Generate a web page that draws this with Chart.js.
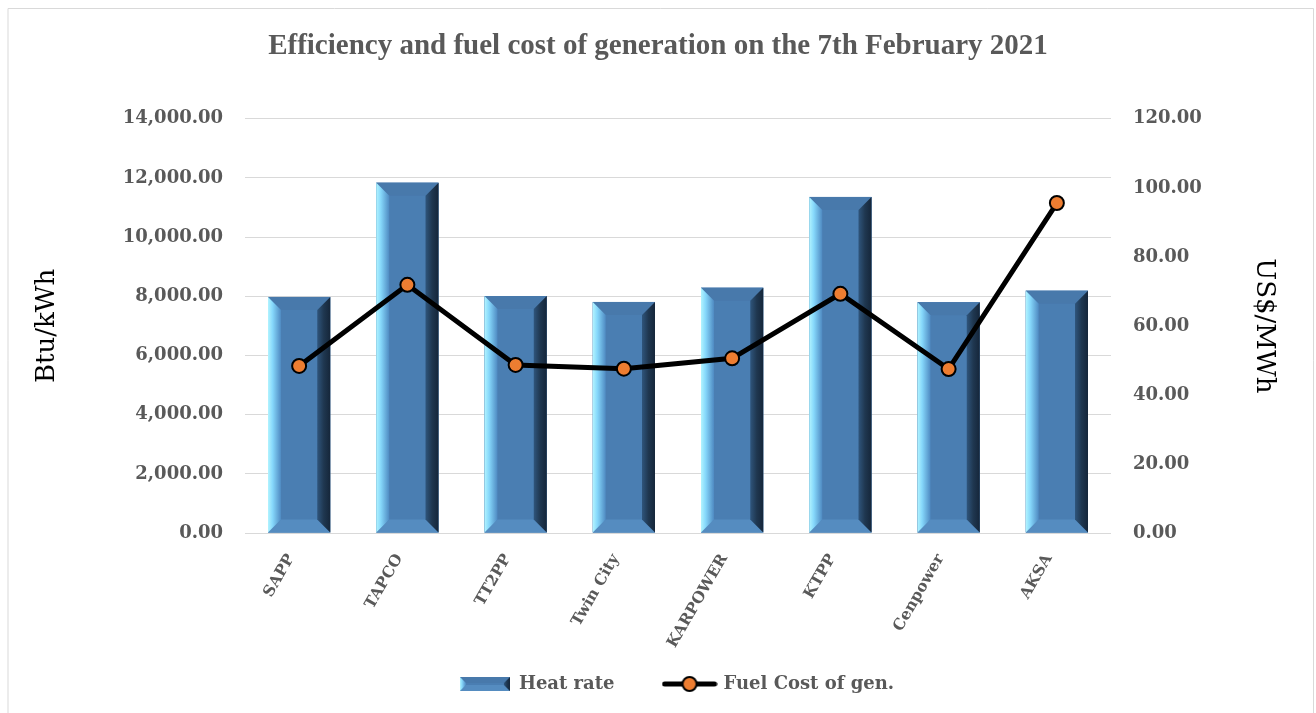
<!DOCTYPE html>
<html>
<head>
<meta charset="utf-8">
<script src="https://cdn.jsdelivr.net/npm/chart.js@4.4.1/dist/chart.umd.min.js"></script>
<style>
  html, body { margin: 0; padding: 0; background: #fff; }
  #wrap { position: absolute; left: 0; top: 0; width: 1316px; height: 713px; }
</style>
</head>
<body>
<div id="wrap"><canvas id="c" width="1316" height="713"></canvas></div>
<script>
const categories = ['SAPP', 'TAPCO', 'TT2PP', 'Twin City', 'KARPOWER', 'KTPP', 'Cenpower', 'AKSA'];
const heatRate = [7980, 11840, 8010, 7810, 8290, 11360, 7800, 8190];
const fuelCost = [48.4, 71.9, 48.7, 47.6, 50.6, 69.3, 47.5, 95.6];
const leftTicks = [0, 2000, 4000, 6000, 8000, 10000, 12000, 14000];
const rightTicks = [0, 20, 40, 60, 80, 100, 120];

const GREY = '#595959';
const fmt = v => Number(v).toLocaleString('en-US', {minimumFractionDigits: 2, maximumFractionDigits: 2});

function bevel(ctx, L, T, R, B, b) {
  ctx.fillStyle = '#4a7eb2';
  ctx.fillRect(L, T, R - L, B - T);
  ctx.fillStyle = '#4879ab';
  ctx.beginPath(); ctx.moveTo(L, T); ctx.lineTo(R, T); ctx.lineTo(R - b, T + b); ctx.lineTo(L + b, T + b); ctx.closePath(); ctx.fill();
  ctx.fillStyle = '#558cc0';
  ctx.beginPath(); ctx.moveTo(L, B); ctx.lineTo(R, B); ctx.lineTo(R - b, B - b); ctx.lineTo(L + b, B - b); ctx.closePath(); ctx.fill();
  let g = ctx.createLinearGradient(L, 0, L + b, 0);
  g.addColorStop(0, '#b2f4ff');
  g.addColorStop(0.35, '#86d8fb');
  g.addColorStop(1, '#4f8ac2');
  ctx.fillStyle = g;
  ctx.beginPath(); ctx.moveTo(L, T); ctx.lineTo(L + b, T + b); ctx.lineTo(L + b, B - b); ctx.lineTo(L, B); ctx.closePath(); ctx.fill();
  g = ctx.createLinearGradient(R - b, 0, R, 0);
  g.addColorStop(0, '#2f557c');
  g.addColorStop(0.5, '#1f3750');
  g.addColorStop(1, '#15263a');
  ctx.fillStyle = g;
  ctx.beginPath(); ctx.moveTo(R, T); ctx.lineTo(R - b, T + b); ctx.lineTo(R - b, B - b); ctx.lineTo(R, B); ctx.closePath(); ctx.fill();
}

function barIcon() {
  const c = document.createElement('canvas'); c.width = 50; c.height = 14;
  const x = c.getContext('2d');
  bevel(x, 0, 0, 50, 14, 6);
  return c;
}
function lineIcon() {
  const c = document.createElement('canvas'); c.width = 56; c.height = 18;
  const x = c.getContext('2d');
  x.strokeStyle = '#000'; x.lineWidth = 5; x.lineCap = 'round';
  x.beginPath(); x.moveTo(3, 9); x.lineTo(53, 9); x.stroke();
  x.beginPath(); x.arc(28, 9, 7, 0, Math.PI * 2);
  x.fillStyle = '#ed7d31'; x.fill(); x.lineWidth = 2; x.stroke();
  return c;
}

const framePlugin = {
  id: 'frame',
  beforeDraw(chart) {
    const ctx = chart.ctx;
    ctx.save();
    ctx.fillStyle = '#fff';
    ctx.fillRect(0, 0, chart.width, chart.height);
    ctx.strokeStyle = '#d9d9d9';
    ctx.lineWidth = 1;
    ctx.beginPath();
    ctx.moveTo(8, 713); ctx.lineTo(8, 8.5); ctx.lineTo(1313.5, 8.5); ctx.lineTo(1313.5, 713);
    ctx.stroke();
    ctx.restore();
  },
  afterLayout(chart) {
    if (chart.legend) { chart.legend.left += 19; chart.legend.right += 19; }
  }
};

const bevelPlugin = {
  id: 'bevel',
  afterDatasetDraw(chart, args) {
    if (args.index !== 0) return;
    const ctx = chart.ctx;
    const meta = args.meta;
    ctx.save();
    meta.data.forEach(el => {
      const p = el.getProps(['x', 'y', 'base', 'width'], true);
      const L = p.x - p.width / 2, R = p.x + p.width / 2;
      const T = Math.min(p.y, p.base), B = Math.max(p.y, p.base);
      bevel(ctx, L, T, R, B, Math.min(13, p.width / 4.5));
    });
    ctx.restore();
  }
};

new Chart(document.getElementById('c'), {
  type: 'bar',
  data: {
    labels: categories,
    datasets: [
      {
        label: 'Heat rate',
        data: heatRate,
        backgroundColor: '#4a7eb2',
        borderWidth: 0,
        barPercentage: 0.575,
        categoryPercentage: 1.0,
        yAxisID: 'y',
        order: 2
      },
      {
        type: 'line',
        label: 'Fuel Cost of gen.',
        data: fuelCost,
        borderColor: '#000',
        borderWidth: 5,
        pointRadius: 7,
        pointBackgroundColor: '#ed7d31',
        pointBorderColor: '#000',
        pointBorderWidth: 2,
        tension: 0,
        yAxisID: 'y1',
        order: 1
      }
    ]
  },
  options: {
    responsive: false,
    animation: false,
    devicePixelRatio: 1,
    layout: { padding: { left: 10, right: 10, top: 0, bottom: 10 } },
    plugins: {
      tooltip: { enabled: false },
      title: {
        display: true,
        text: 'Efficiency and fuel cost of generation on the 7th February 2021',
        color: GREY,
        font: { family: 'Liberation Serif', size: 29, weight: 'bold' },
        padding: { top: 29, bottom: 55 }
      },
      legend: {
        position: 'bottom',
        labels: {
          color: GREY,
          font: { family: 'DejaVu Serif', size: 18, weight: 'bold' },
          usePointStyle: true,
          pointStyleWidth: 50,
          padding: 50,
          generateLabels: () => [
            { text: 'Heat rate', pointStyle: barIcon(), fontColor: GREY, datasetIndex: 0, lineWidth: 0, strokeStyle: 'rgba(0,0,0,0)' },
            { text: 'Fuel Cost of gen.', pointStyle: lineIcon(), fontColor: GREY, datasetIndex: 1, lineWidth: 0, strokeStyle: 'rgba(0,0,0,0)' }
          ]
        }
      }
    },
    scales: {
      x: {
        grid: { display: false },
        border: { display: false },
        ticks: {
          color: GREY,
          font: { family: 'DejaVu Serif', size: 15.5, weight: 'bold' },
          minRotation: 60,
          maxRotation: 60,
          padding: 10,
          labelOffset: -8
        },
        afterFit(s) { s.height = 92; s._computeLabelArea = () => null; }
      },
      y: {
        position: 'left',
        min: 0, max: 14000,
        afterBuildTicks(s) { s.ticks = leftTicks.map(v => ({ value: v })); },
        grid: { color: '#d9d9d9', lineWidth: 1, drawTicks: false },
        border: { display: false },
        ticks: {
          color: GREY,
          font: { family: 'DejaVu Serif', size: 18, weight: 'bold' },
          padding: 22,
          callback: v => fmt(v)
        },
        title: {
          display: true,
          text: 'Btu/kWh',
          color: '#000',
          font: { family: 'DejaVu Serif', size: 26, weight: 'normal' },
          padding: { top: 22, bottom: 0 }
        },
        afterFit(s) { s.width = 235; }
      },
      y1: {
        position: 'right',
        min: 0, max: 120,
        afterBuildTicks(s) { s.ticks = rightTicks.map(v => ({ value: v })); },
        grid: { drawOnChartArea: false, drawTicks: false },
        border: { display: false },
        ticks: {
          color: GREY,
          font: { family: 'DejaVu Serif', size: 18, weight: 'bold' },
          padding: 22,
          callback: v => fmt(v)
        },
        title: {
          display: true,
          text: 'US$/MWh',
          color: '#000',
          font: { family: 'DejaVu Serif', size: 26, weight: 'normal' },
          padding: { top: 27, bottom: 0 }
        },
        afterFit(s) { s.width = 195; }
      }
    }
  },
  plugins: [framePlugin, bevelPlugin]
});
</script>
</body>
</html>
